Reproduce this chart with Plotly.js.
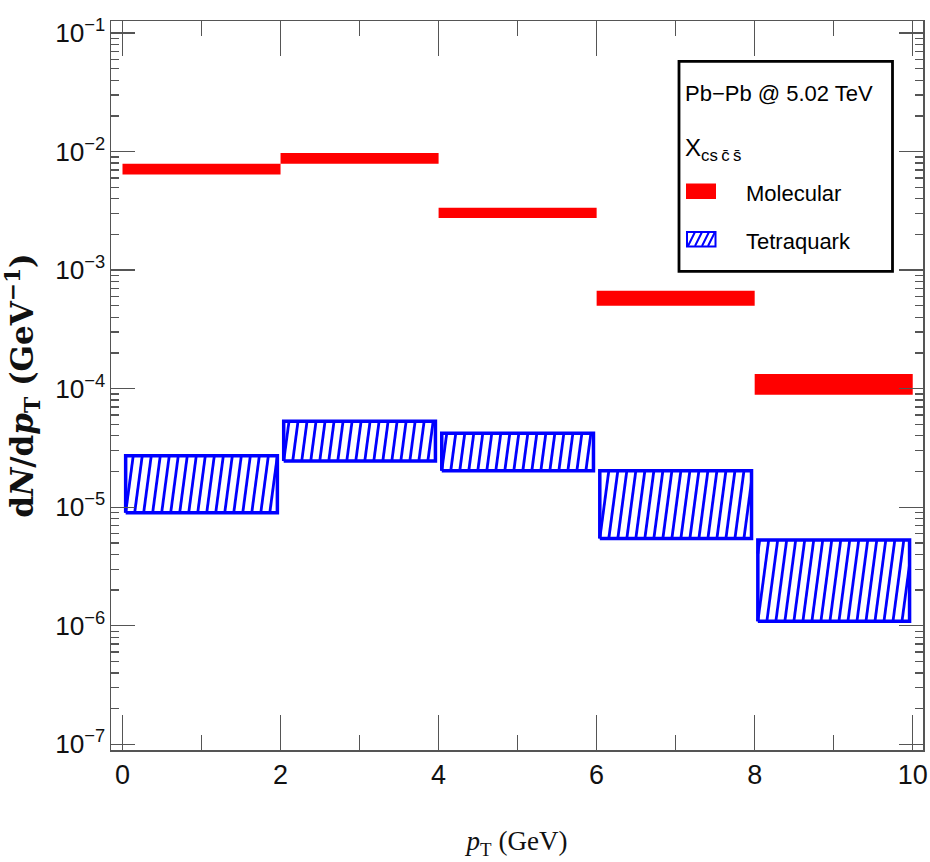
<!DOCTYPE html>
<html><head><meta charset="utf-8">
<script src="https://cdn.plot.ly/plotly-3.0.1.min.js"></script>
<style>html,body{margin:0;padding:0;background:#fff}#chart{width:930px;height:862px}</style>
</head><body><div id="chart"></div>
<script>
// ---- data ----
const binLow  = [0, 2, 4, 6, 8];
const binHigh = [2, 4, 6, 8, 10];
const molecularLow  = [6.4e-3, 7.9e-3, 2.75e-3, 5.0e-4, 8.9e-5];
const molecularHigh = [7.9e-3, 9.7e-3, 3.35e-3, 6.7e-4, 1.33e-4];
const tetraquarkLow  = [9.0e-6, 2.45e-5, 2.03e-5, 5.45e-6, 1.09e-6];
const tetraquarkHigh = [2.72e-5, 5.3e-5, 4.2e-5, 2.03e-5, 5.3e-6];
const xTickVals = [0, 2, 4, 6, 8, 10];
const seriesNames = ['Molecular', 'Tetraquark'];
const systemLabel = 'Pb\u2212Pb @ 5.02 TeV';
const particleLabel = 'X<sub>cs\u2009c\u0304\u2009s\u0304</sub>';

// ---- style ----
const RED = '#ff0000', BLUE = '#0000ff', AX = '#555555';
const M = {l: 111, r: 7, t: 21, b: 112};
const W = 930, H = 862;
const PW = W - M.l - M.r, PH = H - M.t - M.b;
const inset = 0.04;          // box inset (x units)
const hatchStep = 0.114;     // x units between hatch lines
const slantPerDecade = 0.2;  // x shift of hatch line per decade of height
const sans = 'Liberation Sans, Arial, sans-serif';

// red bands
const rx = [], ry = [];
binLow.forEach((x0, i) => {
  const x1 = binHigh[i], lo = molecularLow[i], hi = molecularHigh[i];
  rx.push(x0, x1, x1, x0, x0, null);
  ry.push(lo, lo, hi, hi, lo, null);
});
// blue boxes + hatch
const bx = [], by = [], hx = [], hy = [];
binLow.forEach((b0, i) => {
  const x0 = b0 + inset, x1 = binHigh[i] - inset;
  const lo = tetraquarkLow[i], hi = tetraquarkHigh[i];
  bx.push(x0, x1, x1, x0, x0, null);
  by.push(lo, lo, hi, hi, lo, null);
  const llo = Math.log10(lo), lhi = Math.log10(hi);
  const s = slantPerDecade * (lhi - llo);
  const kStart = -Math.ceil(s / hatchStep);
  for (let k = kStart; x0 + k * hatchStep < x1; k++) {
    const xb = x0 + k * hatchStep;
    const tmin = Math.max(0, (x0 - xb) / s), tmax = Math.min(1, (x1 - xb) / s);
    if (tmax - tmin < 1e-3) continue;
    hx.push(xb + s * tmin, xb + s * tmax, null);
    hy.push(Math.pow(10, llo + tmin * (lhi - llo)), Math.pow(10, llo + tmax * (lhi - llo)), null);
  }
});

const traces = [
  {x: rx, y: ry, mode: 'lines', fill: 'toself', fillcolor: RED, line: {width: 0, color: RED}, hoverinfo: 'skip', name: seriesNames[0]},
  {x: hx, y: hy, mode: 'lines', line: {width: 2.8, color: BLUE}, hoverinfo: 'skip', name: seriesNames[1]},
  {x: bx, y: by, mode: 'lines', line: {width: 3.5, color: BLUE}, hoverinfo: 'skip', name: seriesNames[1]}
];

const px = v => (v - M.l) / PW;
const py = v => 1 - (v - M.t) / PH;

// legend swatch hatch
let hp = '';
[688, 695, 702, 708].forEach(x => {
  hp += `M${px(x)},${py(246)} L${px(x + 7)},${py(232)} `;
});

const layout = {
  width: W, height: H, margin: M, showlegend: false,
  paper_bgcolor: '#fff', plot_bgcolor: '#fff',
  xaxis: {
    range: [-0.1455, 10.13], tickvals: xTickVals, ticks: 'inside', ticklen: 35, tickwidth: 1.3, tickcolor: AX,
    minor: {dtick: 1, tick0: 0, ticks: 'inside', ticklen: 15, tickwidth: 1.3, tickcolor: AX},
    showline: true, linecolor: AX, linewidth: 1.5, mirror: 'ticks', showgrid: false, zeroline: false,
    tickfont: {family: sans, size: 27, color: '#111'},
    title: {text: '<i>p</i><sub>T</sub> (GeV)', font: {family: 'Liberation Serif, serif', size: 27, color: '#111'}, standoff: 42}
  },
  yaxis: {
    type: 'log', range: [-7.048, -0.8988], dtick: 1, exponentformat: 'power',
    ticks: 'inside', ticklen: 24, tickwidth: 1.3, tickcolor: AX,
    minor: {dtick: 'D1', ticks: 'inside', ticklen: 8, tickwidth: 1.3, tickcolor: AX},
    showline: true, linecolor: AX, linewidth: 1.5, mirror: 'ticks', showgrid: false, zeroline: false,
    tickfont: {family: sans, size: 21, color: '#111'},
    title: {text: '<b>d<i>N</i>/d<i>p</i><sub>T</sub> (GeV<sup>\u22121</sup>)</b>', font: {family: 'DejaVu Serif, serif', size: 31, color: '#111'}, standoff: 12}
  },
  shapes: [
    {type: 'rect', xref: 'paper', yref: 'paper', x0: px(679), x1: px(892.5), y0: py(271.3), y1: py(61.3),
      line: {color: '#000', width: 2.8}, fillcolor: '#fff', layer: 'above'},
    {type: 'rect', xref: 'paper', yref: 'paper', x0: px(686), x1: px(716), y0: py(199), y1: py(183.5),
      line: {width: 0}, fillcolor: RED, layer: 'above'},
    {type: 'rect', xref: 'paper', yref: 'paper', x0: px(687), x1: px(715.5), y0: py(246.5), y1: py(232),
      line: {color: BLUE, width: 2}, layer: 'above'},
    {type: 'path', xref: 'paper', yref: 'paper', path: hp, line: {color: BLUE, width: 2}, layer: 'above'}
  ],
  annotations: [
    {text: systemLabel, xref: 'paper', yref: 'paper', x: px(683), y: py(94), xanchor: 'left', yanchor: 'middle', showarrow: false,
      font: {family: sans, size: 22, color: '#000'}},
    {text: particleLabel, xref: 'paper', yref: 'paper', x: px(683), y: py(149), xanchor: 'left', yanchor: 'middle', showarrow: false,
      font: {family: sans, size: 24, color: '#000'}},
    {text: seriesNames[0], xref: 'paper', yref: 'paper', x: px(744), y: py(193), xanchor: 'left', yanchor: 'middle', showarrow: false,
      font: {family: sans, size: 22, color: '#000'}},
    {text: seriesNames[1], xref: 'paper', yref: 'paper', x: px(744), y: py(241), xanchor: 'left', yanchor: 'middle', showarrow: false,
      font: {family: sans, size: 22, color: '#000'}}
  ]
};

Plotly.newPlot('chart', traces, layout, {staticPlot: true, displayModeBar: false});
</script></body></html>
